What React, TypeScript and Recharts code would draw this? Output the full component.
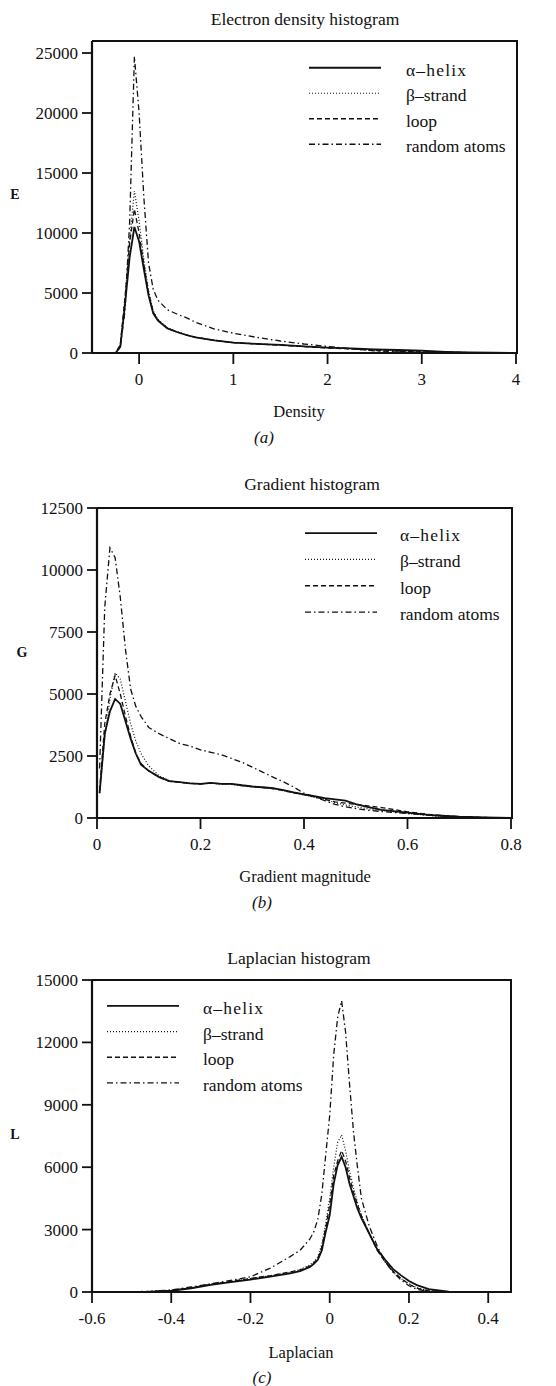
import React from "react";
import { LineChart, Line, XAxis, YAxis, Legend } from "recharts";

// (a) electron density
const densityX = [-0.3, -0.25, -0.2, -0.15, -0.1, -0.05, 0, 0.05, 0.1, 0.15, 0.2, 0.3, 0.4, 0.5, 0.6, 0.8, 1.0, 1.25, 1.5, 1.75, 2.0, 2.25, 2.5, 2.75, 3.0, 3.25, 3.5, 3.75, 4.0];
const densityHelix = [0, 0, 500, 4000, 8000, 10500, 9300, 7000, 4800, 3300, 2700, 2050, 1750, 1500, 1300, 1050, 870, 760, 670, 560, 450, 380, 310, 250, 190, 100, 50, 20, 0];
const densityStrand = [0, 0, 600, 4500, 9500, 13500, 11000, 7800, 5200, 3500, 2800, 2100, 1780, 1520, 1320, 1060, 880, 760, 660, 550, 440, 360, 260, 200, 140, 80, 40, 15, 0];
const densityLoop = [0, 0, 700, 4600, 9200, 12000, 10000, 7400, 5000, 3400, 2750, 2080, 1760, 1510, 1310, 1050, 870, 750, 650, 530, 420, 330, 200, 150, 100, 60, 30, 10, 0];
const densityRandom = [0, 0, 500, 3500, 11000, 24700, 20000, 13000, 7500, 5300, 4400, 3600, 3250, 2950, 2550, 2000, 1650, 1300, 1000, 750, 550, 350, 180, 100, 60, 30, 10, 0, 0];
const densityXTicks = [0, 1, 2, 3, 4];
const densityYTicks = [0, 5000, 10000, 15000, 20000, 25000];

// (b) gradient magnitude
const gradX = [0.005, 0.015, 0.025, 0.035, 0.045, 0.055, 0.065, 0.075, 0.085, 0.1, 0.12, 0.14, 0.16, 0.18, 0.2, 0.22, 0.24, 0.26, 0.28, 0.3, 0.32, 0.34, 0.36, 0.38, 0.4, 0.42, 0.44, 0.46, 0.48, 0.5, 0.52, 0.55, 0.6, 0.65, 0.7, 0.75, 0.8];
const gradHelix = [1000, 3400, 4300, 4800, 4600, 3900, 3200, 2600, 2150, 1900, 1650, 1490, 1450, 1400, 1380, 1420, 1380, 1380, 1320, 1270, 1240, 1200, 1120, 1030, 950, 880, 800, 750, 700, 560, 460, 330, 220, 110, 50, 20, 0];
const gradStrand = [1000, 3200, 4800, 5850, 5600, 4700, 3800, 3100, 2600, 2100, 1700, 1500, 1440, 1400, 1370, 1400, 1370, 1360, 1300, 1260, 1220, 1180, 1100, 1010, 930, 840, 750, 620, 520, 450, 380, 300, 180, 90, 40, 10, 0];
const gradLoop = [1100, 3800, 5000, 5750, 5000, 4100, 3300, 2600, 2200, 1900, 1650, 1480, 1440, 1400, 1370, 1410, 1380, 1370, 1310, 1260, 1230, 1190, 1110, 1020, 940, 850, 750, 650, 600, 550, 500, 420, 250, 120, 60, 20, 0];
const gradRandom = [2000, 8500, 10900, 10500, 8900, 6800, 5200, 4500, 4100, 3650, 3400, 3200, 3000, 2900, 2750, 2650, 2550, 2400, 2250, 2050, 1850, 1650, 1460, 1250, 1000, 850, 700, 550, 450, 380, 320, 260, 180, 100, 40, 10, 0];
const gradXTicks = [0, 0.2, 0.4, 0.6, 0.8];
const gradYTicks = [0, 2500, 5000, 7500, 10000, 12500];

// (c) laplacian
const lapX = [-0.6, -0.5, -0.45, -0.4, -0.35, -0.3, -0.25, -0.2, -0.15, -0.1, -0.075, -0.05, -0.04, -0.03, -0.02, -0.01, 0, 0.01, 0.02, 0.03, 0.04, 0.05, 0.06, 0.07, 0.08, 0.1, 0.12, 0.14, 0.16, 0.18, 0.2, 0.22, 0.25, 0.3, 0.35, 0.4, 0.45];
const lapHelix = [0, 5, 20, 60, 180, 340, 470, 600, 740, 900, 1000, 1200, 1350, 1550, 2000, 2900, 3700, 5200, 6100, 6500, 6000, 5200, 4600, 4000, 3550, 2800, 2050, 1550, 1100, 800, 530, 330, 140, 15, 0, 0, 0];
const lapStrand = [0, 5, 25, 70, 190, 360, 500, 640, 780, 950, 1080, 1300, 1450, 1700, 2300, 3300, 4500, 6000, 7200, 7550, 6800, 5800, 5000, 4300, 3700, 2800, 2000, 1450, 950, 650, 400, 200, 60, 0, 0, 0, 0];
const lapLoop = [0, 5, 25, 70, 200, 370, 510, 650, 790, 960, 1060, 1250, 1400, 1600, 2150, 3100, 4200, 5600, 6300, 6800, 6300, 5500, 4800, 4200, 3650, 2800, 2000, 1450, 1000, 650, 380, 180, 50, 0, 0, 0, 0];
const lapRandom = [0, 10, 40, 100, 240, 400, 560, 730, 1150, 1700, 2000, 2550, 2900, 3500, 4700, 6600, 8500, 11400, 13200, 14000, 12500, 10000, 7700, 6000, 4500, 3150, 2200, 1450, 950, 570, 300, 130, 30, 0, 0, 0, 0];
const lapXTicks = [-0.6, -0.4, -0.2, 0, 0.2, 0.4];
const lapYTicks = [0, 3000, 6000, 9000, 12000, 15000];

const SERIES = [
  { key: "helix", name: "α–helix", dash: undefined, width: 1.8 },
  { key: "strand", name: "β–strand", dash: "1 2", width: 1.2 },
  { key: "loop", name: "loop", dash: "5 3", width: 1.3 },
  { key: "random", name: "random atoms", dash: "6 3 1.5 3", width: 1.3 },
];

const rows = (xs: number[], h: number[], s: number[], l: number[], r: number[]) =>
  xs.map((x, i) => ({ x, helix: h[i], strand: s[i], loop: l[i], random: r[i] }));

const FONT = "'Liberation Serif', 'Times New Roman', serif";
const INK = "#111";
const X_AXIS_H = 40;

const Txt = ({ x, y, style, children }: any) => (
  <div
    style={{
      position: "absolute",
      left: x,
      top: y,
      transform: "translate(-50%, -50%)",
      whiteSpace: "nowrap",
      lineHeight: 1,
      color: INK,
      ...style,
    }}
  >
    {children}
  </div>
);

const legendContent = (gap: number, textDx: number) => () => (
  <svg width={250} height={gap * 4} style={{ display: "block", overflow: "visible" }}>
    {SERIES.map((s, i) => (
      <g key={s.key}>
        <line x1={0} x2={72} y1={gap / 2 + i * gap} y2={gap / 2 + i * gap} stroke={INK} strokeWidth={s.width} strokeDasharray={s.dash} />
        <text x={textDx} y={gap / 2 + i * gap + 8} fontSize={17.5} fill={INK} fontFamily={FONT} letterSpacing={i === 0 ? 1.2 : 0}>
          {s.name}
        </text>
      </g>
    ))}
  </svg>
);

function Panel(props: any) {
  const { top, height, data, xDomain, xTicks, yDomain, yTicks, margin, yWidth, legend } = props;
  const tickStyle = { fill: INK, fontSize: 17, fontFamily: FONT };
  // top and right edges of the plot frame (the axes draw left and bottom)
  const boxLeft = margin.left + yWidth;
  const boxW = 556 - boxLeft - margin.right;
  const boxH = height - margin.top - margin.bottom - X_AXIS_H;
  return (
    <div style={{ position: "absolute", left: 0, top, width: 556, height }}>
      <LineChart width={556} height={height} data={data} margin={margin}>
        <XAxis
          dataKey="x"
          type="number"
          domain={xDomain}
          ticks={xTicks}
          allowDataOverflow
          height={X_AXIS_H}
          axisLine={{ stroke: INK, strokeWidth: 2.2 }}
          tickLine={{ stroke: INK, strokeWidth: 1.8 }}
          tickSize={11}
          tickMargin={9}
          tick={tickStyle}
        />
        <YAxis
          type="number"
          domain={yDomain}
          ticks={yTicks}
          allowDataOverflow
          width={yWidth}
          axisLine={{ stroke: INK, strokeWidth: 2.2 }}
          tickLine={{ stroke: INK, strokeWidth: 1.8 }}
          tickSize={10}
          tickMargin={4}
          tick={tickStyle}
          interval={0}
        />
        {SERIES.map((s) => (
          <Line
            key={s.key}
            dataKey={s.key}
            name={s.name}
            type="linear"
            stroke={INK}
            strokeWidth={s.width}
            strokeDasharray={s.dash}
            dot={false}
            isAnimationActive={false}
          />
        ))}
        <Legend
          layout="horizontal"
          verticalAlign="middle"
          align="center"
          content={legendContent(legend.gap, legend.textDx)}
          wrapperStyle={{ top: legend.top, left: legend.left, width: 250 }}
        />
      </LineChart>
      <div
        style={{
          position: "absolute",
          left: boxLeft,
          top: margin.top - 1,
          width: boxW,
          height: boxH,
          borderTop: `2px solid ${INK}`,
          borderRight: `2px solid ${INK}`,
          pointerEvents: "none",
        }}
      />
    </div>
  );
}

export default function App() {
  return (
    <div style={{ position: "absolute", left: 0, top: 0, width: 556, height: 1386, background: "#fff", fontFamily: FONT, overflow: "hidden" }}>
      <Panel
        top={0}
        height={460}
        data={rows(densityX, densityHelix, densityStrand, densityLoop, densityRandom)}
        xDomain={[-0.5, 4]}
        xTicks={densityXTicks}
        yDomain={[0, 26000]}
        yTicks={densityYTicks}
        yWidth={92}
        margin={{ top: 41, right: 40, bottom: 67, left: 0 }}
        legend={{ top: 55, left: 309, gap: 25.5, textDx: 97 }}
      />
      <Txt x={305} y={20} style={{ fontSize: 17.5 }}>Electron density histogram</Txt>
      <Txt x={299} y={412} style={{ fontSize: 16.5 }}>Density</Txt>
      <Txt x={264} y={437} style={{ fontSize: 17, fontStyle: "italic" }}>(a)</Txt>
      <Txt x={15} y={195} style={{ fontSize: 14, fontWeight: "bold" }}>E</Txt>

      <Panel
        top={460}
        height={460}
        data={rows(gradX, gradHelix, gradStrand, gradLoop, gradRandom)}
        xDomain={[0, 0.8]}
        xTicks={gradXTicks}
        yDomain={[0, 12500]}
        yTicks={gradYTicks}
        yWidth={97}
        margin={{ top: 48, right: 45, bottom: 62, left: 0 }}
        legend={{ top: 60, left: 305, gap: 26.3, textDx: 95 }}
      />
      <Txt x={312} y={485} style={{ fontSize: 17.5 }}>Gradient histogram</Txt>
      <Txt x={305} y={877} style={{ fontSize: 16.5 }}>Gradient magnitude</Txt>
      <Txt x={262} y={902} style={{ fontSize: 17, fontStyle: "italic" }}>(b)</Txt>
      <Txt x={22} y={653} style={{ fontSize: 14, fontWeight: "bold" }}>G</Txt>

      <Panel
        top={920}
        height={466}
        data={rows(lapX, lapHelix, lapStrand, lapLoop, lapRandom)}
        xDomain={[-0.6, 0.455]}
        xTicks={lapXTicks}
        yDomain={[0, 15000]}
        yTicks={lapYTicks}
        yWidth={92}
        margin={{ top: 60, right: 46, bottom: 54, left: 0 }}
        legend={{ top: 73, left: 107, gap: 25.7, textDx: 96 }}
      />
      <Txt x={299} y={959} style={{ fontSize: 17.5 }}>Laplacian histogram</Txt>
      <Txt x={301} y={1353} style={{ fontSize: 16.5 }}>Laplacian</Txt>
      <Txt x={262} y={1377} style={{ fontSize: 17, fontStyle: "italic" }}>(c)</Txt>
      <Txt x={15} y={1135} style={{ fontSize: 14, fontWeight: "bold" }}>L</Txt>
    </div>
  );
}
